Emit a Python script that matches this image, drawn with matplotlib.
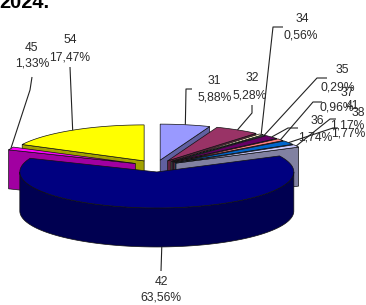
import numpy as np
import matplotlib
matplotlib.use("Agg")
import matplotlib.pyplot as plt
from matplotlib.patches import Polygon
from matplotlib.colors import to_rgb

# ---- data ----
codes = ["31", "32", "34", "35", "36", "37", "38", "41", "42", "45", "54"]
shares = [5.88, 5.28, 0.56, 0.29, 1.74, 0.96, 1.77, 1.17, 63.56, 1.33, 17.47]
pct_labels = [f"{v:.2f}%".replace(".", ",") for v in shares]
colors = ["#9999FF", "#993366", "#FFFFCC", "#CCFFFF", "#660066", "#FF8080",
          "#0066CC", "#CCCCFF", "#000080", "#FF00FF", "#FFFF00"]
title = "2024."

# ---- layout (pixels) ----
W, H = 366, 305
CX, CY = 156, 166
RX, RY = 137, 36
DEPTH = 39
EXPLODE = 0.166
SHADE = 0.63

# label layout: code text pos, percent text pos, leader waypoints (from label side)
label_layout = {
    "31": ((214, 81), (215, 97), [(192, 89), (186, 89)]),
    "32": ((252, 78), (250, 95), [(252, 105), (252, 113)]),
    "34": ((302, 19), (301, 35), [(283, 27), (273, 27)]),
    "35": ((342, 70), (338, 87), [(327, 78), (317, 78)]),
    "36": ((317, 121), (315, 137), [(298, 128), (288, 128)]),
    "37": ((347, 93), (337, 108), [(322, 102), (313, 102)]),
    "38": ((358, 113), (348, 133), [(338, 128), (333, 128)]),
    "41": ((352, 106), (347, 125), [(336, 119), (330, 119)]),
    "42": ((161, 282), (161, 298), [(161, 271)]),
    "45": ((31, 48), (32, 63), [(32, 77), (30, 90)]),
    "54": ((70, 40), (70, 57), [(70, 67)]),
}

fig = plt.figure(figsize=(W / 100, H / 100), dpi=100)
ax = fig.add_axes([0, 0, 1, 1])
ax.set_xlim(0, W)
ax.set_ylim(H, 0)
ax.axis("off")

total = sum(shares)
bounds = np.concatenate([[0], np.cumsum(shares)]) / total * 360.0


def pt(a, c, dz=0.0):
    r = np.radians(a)
    return (c[0] + RX * np.sin(r), c[1] - RY * np.cos(r) + dz)


def arc(a1, a2, c, dz=0.0):
    n = max(3, int(abs(a2 - a1) * 2))
    return [pt(a, c, dz) for a in np.linspace(a1, a2, n)]


def shade(col, f=SHADE):
    r, g, b = to_rgb(col)
    return (r * f, g * f, b * f)


slices = []
for i in range(len(codes)):
    a1, a2 = bounds[i], bounds[i + 1]
    m = 0.5 * (a1 + a2)
    mr = np.radians(m)
    c = (CX + EXPLODE * RX * np.sin(mr), CY - EXPLODE * RY * np.cos(mr))
    slices.append((i, a1, a2, m, c))

order = sorted(slices, key=lambda s: -np.cos(np.radians(s[3])))
EC = "#111111"
LW = 0.5
z = 1
for i, a1, a2, m, c in order:
    col = colors[i]
    side = shade(col)
    faces = []
    lo, hi = max(a1, 90.0), min(a2, 270.0)
    if hi > lo:
        faces.append(arc(lo, hi, c) + arc(lo, hi, c, DEPTH)[::-1])
    if np.sin(np.radians(a1)) < -1e-6:
        p = pt(a1, c)
        faces.append([c, p, (p[0], p[1] + DEPTH), (c[0], c[1] + DEPTH)])
    if np.sin(np.radians(a2)) > 1e-6:
        p = pt(a2, c)
        faces.append([c, p, (p[0], p[1] + DEPTH), (c[0], c[1] + DEPTH)])
    for f in faces:
        ax.add_patch(Polygon(f, closed=True, facecolor=side, edgecolor=EC,
                             linewidth=LW, zorder=z))
        z += 1
    top = [c] + arc(a1, a2, c)
    ax.add_patch(Polygon(top, closed=True, facecolor=col, edgecolor=EC,
                         linewidth=LW, zorder=z))
    z += 1

# labels and leader lines
tkw = dict(ha="center", va="center", fontsize=8.7, color="#2a2a2a",
           family=["Liberation Sans", "DejaVu Sans"], zorder=z + 10)
for i, code in enumerate(codes):
    a1, a2, m, c = slices[i][1], slices[i][2], slices[i][3], slices[i][4]
    cxy, pxy, way = label_layout[code]
    ax.text(cxy[0], cxy[1], code, **tkw)
    ax.text(pxy[0], pxy[1], pct_labels[i], **tkw)
    if np.cos(np.radians(m)) < 0:
        anchor = pt(m, c, DEPTH)
    else:
        anchor = pt(m, c)
    pts = way + [anchor]
    ax.plot([p[0] for p in pts], [p[1] for p in pts], color="#222222",
            lw=0.8, zorder=z + 5, solid_capstyle="butt")

ax.text(-1, 8, title, ha="left", va="baseline", fontsize=14.4,
        fontweight="bold", family=["Liberation Sans", "DejaVu Sans"],
        color="black")

fig.savefig("out.png", dpi=100)
